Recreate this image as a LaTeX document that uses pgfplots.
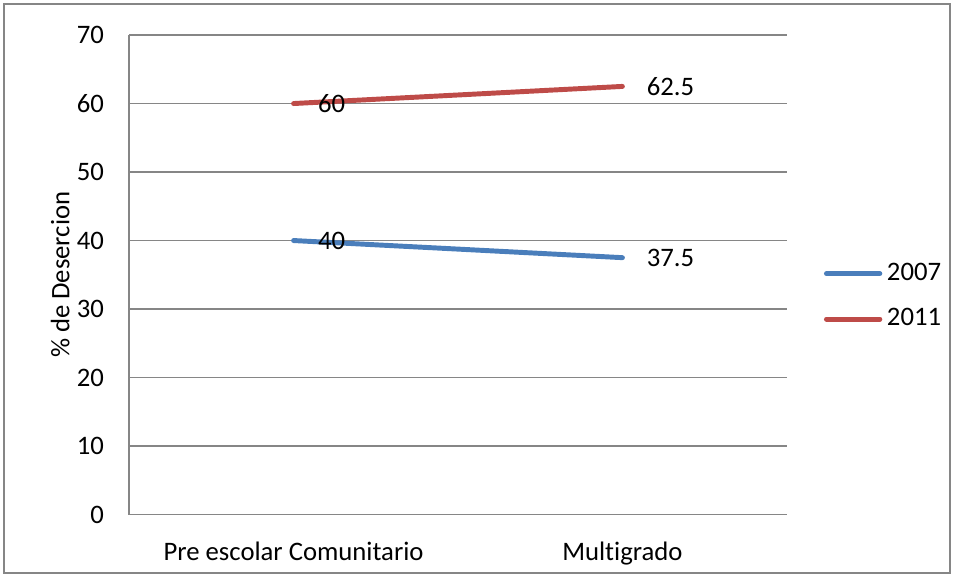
\documentclass[border=0pt]{standalone}
\usepackage{pgfplots}
\pgfplotsset{compat=1.18}
\usepackage{fontspec}
\setmainfont[Ligatures=NoCommon]{Carlito}
\definecolor{gridgray}{HTML}{868686}
\definecolor{s2007}{HTML}{4A7EBB}
\definecolor{s2011}{HTML}{BE4B48}
\begin{document}
\fontsize{20pt}{24pt}\selectfont
\begin{tikzpicture}[x=1pt,y=1pt]
\begin{axis}[
  at={(0,0)}, anchor=south west,
  scale only axis,
  width=492.75pt, height=359.25pt,
  xmin=-0.5, xmax=1.5,
  ymin=0, ymax=70,
  ytick={0,10,...,70},
  xtick={0,1},
  xticklabels={Pre escolar Comunitario, Multigrado},
  axis x line*=bottom,
  axis y line*=left,
  axis line style={gridgray, line width=1.4pt},
  x axis line style={-},
  y axis line style={-},
  major tick length=0pt,
  ymajorgrids,
  grid style={gridgray, line width=1.4pt},
  /pgf/number format/assume math mode=true,
  tick label style={font=\fontsize{20pt}{24pt}\selectfont},
  yticklabel style={xshift=-12pt},
  xticklabel style={yshift=-14pt},
  ylabel={\% de Desercion},
  ylabel style={font=\fontsize{20pt}{24pt}\selectfont, yshift=-8pt},
  legend style={at={(1.05,0.455)}, anchor=west, draw=none, fill=none,
    font=\fontsize{20pt}{24pt}\selectfont, row sep=18pt,
    nodes={inner sep=0pt, anchor=west}},
  legend cell align=left,
  legend image code/.code={\draw[#1] (0pt,0pt) -- (40pt,0pt);},
  nodes near coords,
  every node near coord/.append style={anchor=west, inner sep=0pt, xshift=16.5pt, font=\fontsize{20pt}{24pt}\selectfont, text=black},
  clip=false,
]
\addplot[s2007, line width=3.7pt, line cap=round] coordinates {(0,40) (1,37.5)};
\addlegendentry{\hspace{3.5pt}2007}
\addplot[s2011, line width=3.7pt, line cap=round] coordinates {(0,60) (1,62.5)};
\addlegendentry{\hspace{3.5pt}2011}
\coordinate (ll) at (rel axis cs:0,0);
\coordinate (ur) at (rel axis cs:1,1);
\end{axis}
\draw[gridgray, line width=1.5pt] ([xshift=-93.75pt,yshift=-43.5pt]ll) rectangle ([xshift=122.25pt,yshift=23.25pt]ur);
\useasboundingbox ([xshift=-96.75pt,yshift=-46.5pt]ll) rectangle ([xshift=125.25pt,yshift=26.25pt]ur);
\end{tikzpicture}
\end{document}
